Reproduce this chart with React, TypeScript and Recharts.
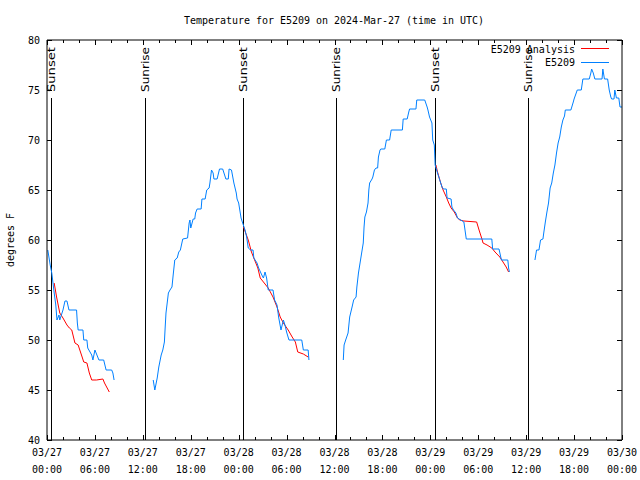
import React from 'react';
import { LineChart, Line, XAxis, YAxis, ReferenceLine } from 'recharts';

const FONT = '"DejaVu Sans Mono", monospace';

// x axis in hours since 03/27 00:00 UTC
const xMajorHours = [0, 6, 12, 18, 24, 30, 36, 42, 48, 54, 60, 66, 72];
const xAllHours = [0, 2, 4, 6, 8, 10, 12, 14, 16, 18, 20, 22, 24, 26, 28, 30, 32, 34, 36, 38, 40, 42, 44, 46, 48, 50, 52, 54, 56, 58, 60, 62, 64, 66, 68, 70, 72];
const xTickDates = ['03/27', '03/27', '03/27', '03/27', '03/28', '03/28', '03/28', '03/28', '03/29', '03/29', '03/29', '03/29', '03/30'];
const xTickTimes = ['00:00', '06:00', '12:00', '18:00', '00:00', '06:00', '12:00', '18:00', '00:00', '06:00', '12:00', '18:00', '00:00'];
const yTicks = [40, 45, 50, 55, 60, 65, 70, 75, 80];

const sunsetHours = [0.5, 24.54, 48.58];
const sunriseHours = [12.27, 36.19, 60.23];

// E5209 observations [hour, degF]
const obsSeg1: [number, number][] = [
  [0.1, 59], [0.4, 57.5], [0.6, 56.7], [0.9, 54.7], [1.1, 53.5], [1.25, 52], [1.5, 52.5], [1.6, 52],
  [2, 53], [2.25, 53.9], [2.5, 53.9], [2.75, 53], [3.7, 53], [3.8, 51.7], [3.9, 51], [4.5, 51],
  [4.6, 50], [5, 50], [5.1, 49.2], [5.6, 48.5], [5.75, 48], [6, 49], [6.3, 48.4], [6.5, 48],
  [7.1, 48], [7.4, 47], [8.1, 47], [8.25, 46.7], [8.4, 46],
];
const obsSeg2: [number, number][] = [
  [13.3, 46], [13.5, 45], [13.8, 46.2], [14, 47.3], [14.3, 48.5], [14.5, 49], [14.7, 49.8], [14.8, 51.3],
  [14.9, 52.7], [15.2, 54.7], [15.4, 55], [15.65, 55.3], [15.8, 56.5], [16, 58], [16.3, 58.2], [16.5, 58.8],
  [16.7, 59], [17, 60.1], [17.6, 60.2], [17.8, 61.7], [17.9, 62], [18, 61.2], [18.3, 62.1], [18.5, 62.1],
  [18.6, 62.7], [18.8, 63.1], [19.3, 63.1], [19.4, 64.1], [19.8, 64.1], [20, 65], [20.3, 65.2], [20.4, 65.7],
  [20.6, 67], [20.8, 66.7], [20.9, 66.1], [21.3, 66.1], [21.6, 67.1], [22, 67.1], [22.4, 66.1], [22.7, 66.1],
  [22.8, 67.1], [23.1, 67], [23.4, 65.7], [23.7, 64.7], [23.8, 64.1], [24, 63.7], [24.3, 62.2], [24.5, 61.7],
  [24.8, 61], [25, 60.3], [25.2, 59.2], [25.5, 59], [25.8, 59], [25.9, 58.2], [26.3, 57.7], [26.5, 57.2],
  [26.9, 56.5], [27.1, 56.2], [27.3, 56.8], [27.5, 56.2], [27.7, 55], [28.3, 55], [28.5, 54], [28.8, 53.5],
  [29, 52.3], [29.3, 51], [29.6, 52], [29.8, 51.5], [30, 50.8], [30.3, 50], [31.9, 50], [32.1, 49],
  [32.7, 49], [32.8, 48],
];
const obsSeg3: [number, number][] = [
  [37.1, 48], [37.2, 49.5], [37.4, 50], [37.7, 50.7], [37.9, 52.3], [38.2, 53.3], [38.4, 54], [38.7, 54.3],
  [38.8, 55.3], [39, 56.7], [39.2, 57.7], [39.4, 58.7], [39.6, 59.7], [39.7, 61.3], [39.8, 62.3], [40, 62.8],
  [40.2, 63.7], [40.3, 65], [40.4, 65.7], [40.7, 66.1], [40.8, 66.3], [41, 67], [41.2, 67.2], [41.4, 67.2],
  [41.5, 68.3], [41.7, 69], [41.8, 69.1], [42.3, 69.1], [42.5, 70], [42.9, 70], [43.1, 71], [44.5, 71],
  [44.6, 72.1], [45.1, 72.1], [45.3, 72.8], [45.4, 73.1], [46.2, 73.1], [46.3, 74], [47.3, 74], [47.6, 73.3],
  [47.7, 73], [47.9, 72.3], [48.2, 71.7], [48.3, 70], [48.5, 69.5], [48.6, 67.5], [48.9, 66.7], [49.1, 66.2],
  [49.3, 65.7], [49.5, 65.2], [49.7, 65.1], [50, 65.1], [50.1, 64.2], [50.6, 64.1], [50.7, 63.3], [50.9, 63],
  [51.2, 62.7], [51.4, 62.2], [52, 61.9], [52.2, 61.8], [52.5, 60.1], [55.7, 60.1], [55.8, 59.1], [56.6, 59.1],
  [56.9, 58], [57.7, 58], [57.8, 57.2], [57.9, 56.8],
];
const obsSeg4: [number, number][] = [
  [61.1, 58], [61.3, 59], [61.6, 59], [61.8, 60], [62.1, 60.1], [62.2, 60.7], [62.4, 61.8], [62.6, 62.8],
  [62.8, 63.7], [63, 65.2], [63.2, 65.7], [63.4, 66.7], [63.6, 67.5], [63.8, 68.7], [64, 69.7], [64.2, 70.3],
  [64.4, 71.3], [64.6, 72], [64.8, 72.4], [64.9, 73], [65.6, 73], [65.9, 73.8], [66, 74.1], [66.4, 75],
  [66.9, 75], [67.1, 76.1], [67.9, 76.1], [68.1, 76.7], [68.2, 77.1], [68.4, 76.7], [68.6, 76.1], [69.5, 76.1],
  [69.6, 77.1], [69.8, 76.1], [70.2, 76.1], [70.4, 75], [70.6, 74.3], [70.7, 74.1], [71, 74.1], [71.1, 75],
  [71.3, 74.2], [71.6, 74.2], [71.75, 73.3], [72, 73.3],
];

// E5209 analysis [hour, degF]
const anaSeg1: [number, number][] = [
  [0.9, 55.7], [1.2, 54.3], [1.6, 52.7], [2, 52.2], [2.5, 51.5], [2.8, 51.2], [3.1, 51], [3.5, 49.7],
  [3.9, 49.5], [4.4, 48.3], [4.6, 47.8], [5, 47.7], [5.3, 46.7], [5.6, 46], [6.2, 46], [7, 46.1],
  [7.2, 45.7], [7.8, 44.8],
];
const anaSeg2: [number, number][] = [
  [24.6, 61.3], [25.2, 60], [25.6, 58.8], [26, 58], [26.4, 57.2], [26.7, 56.2], [27.1, 55.8], [27.7, 55.2],
  [28.3, 54.3], [28.8, 53.3], [29.2, 52.3], [29.6, 51.7], [30.2, 51], [30.7, 50.3], [31.1, 49.8], [31.4, 48.8],
  [32.1, 48.6], [32.7, 48.3],
];
const anaSeg3: [number, number][] = [
  [48.7, 67.5], [48.9, 66.8], [49.3, 65.7], [49.6, 65], [50, 64.3], [50.3, 63.7], [50.6, 63.2], [51, 62.8],
  [51.4, 62.2], [51.7, 62], [52.2, 61.9], [53.8, 61.8], [54.1, 61], [54.5, 60], [54.6, 59.7], [55.1, 59.5],
  [55.7, 59.2], [56.1, 58.8], [56.7, 58.3], [57.1, 57.8], [57.5, 57.3], [57.8, 56.8],
];

// join segments, a null point between them breaks the line
const joinSegments = (segs: [number, number][][]) => {
  const out: { h: number; t: number | null }[] = [];
  segs.forEach((seg, i) => {
    if (i > 0) out.push({ h: (segs[i - 1][segs[i - 1].length - 1][0] + seg[0][0]) / 2, t: null });
    seg.forEach(([h, t]) => out.push({ h, t }));
  });
  return out;
};

const obsData = joinSegments([obsSeg1, obsSeg2, obsSeg3, obsSeg4]);
const anaData = joinSegments([anaSeg1, anaSeg2, anaSeg3]);

// snap to pixel centre so 1px lines stay sharp
const px = (v: number) => Math.round(v) + 0.5;

const BottomTick = (props: any) => {
  const { x, y, payload } = props;
  const idx = xMajorHours.indexOf(payload.value);
  const major = idx >= 0;
  return (
    <g>
      <line x1={px(x)} x2={px(x)} y1={y} y2={y - (major ? 5 : 3)} stroke="#000" />
      {major && (
        <text textAnchor="middle" fontFamily={FONT} fontSize={10} fill="#000">
          <tspan x={x} y={y + 16}>{xTickDates[idx]}</tspan>
          <tspan x={x} y={y + 33}>{xTickTimes[idx]}</tspan>
        </text>
      )}
    </g>
  );
};

const TopTick = (props: any) => {
  const { x, y, payload } = props;
  const major = xMajorHours.indexOf(payload.value) >= 0;
  return <line x1={px(x)} x2={px(x)} y1={y} y2={y + (major ? 5 : 3)} stroke="#000" />;
};

const LeftTick = (props: any) => {
  const { x, y, payload } = props;
  return (
    <g>
      <line x1={x} x2={x + 5} y1={px(y)} y2={px(y)} stroke="#000" />
      <text x={x - 7} y={y + 4} textAnchor="end" fontFamily={FONT} fontSize={10} fill="#000">
        {payload.value}
      </text>
    </g>
  );
};

const RightTick = (props: any) => {
  const { x, y } = props;
  return <line x1={x} x2={x - 5} y1={px(y)} y2={px(y)} stroke="#000" />;
};

const sunShape = (label: string) => (props: any) => {
  const { x1, y1, y2 } = props;
  const top = Math.min(y1, y2);
  const bottom = Math.max(y1, y2);
  const lx = px(x1);
  return (
    <g>
      <line x1={lx} x2={lx} y1={top + 58} y2={bottom} stroke="#000" strokeWidth={1} />
      <text
        transform={`rotate(-90 ${x1 + 4} ${top + 52})`}
        x={x1 + 4}
        y={top + 52}
        fontFamily="DejaVu Sans"
        fontSize={11}
        fill="#000"
        textLength={45}
        lengthAdjust="spacingAndGlyphs"
      >
        {label}
      </text>
    </g>
  );
};

export default function App() {
  return (
    <div style={{ position: 'absolute', left: 0, top: 0, width: 640, height: 480, background: '#fff' }}>
      <LineChart width={640} height={480} margin={{ top: 39, right: 17, bottom: 0, left: 0 }}>
        <XAxis
          xAxisId="bottom"
          dataKey="h"
          type="number"
          domain={[0, 72]}
          ticks={xAllHours}
          interval={0}
          allowDataOverflow
          height={40}
          tickSize={0}
          tickMargin={0}
          tickLine={false}
          axisLine={{ stroke: '#000' }}
          tick={<BottomTick />}
        />
        <XAxis
          xAxisId="top"
          orientation="top"
          dataKey="h"
          type="number"
          domain={[0, 72]}
          ticks={xAllHours}
          interval={0}
          allowDataOverflow
          height={1}
          tickSize={0}
          tickMargin={0}
          tickLine={false}
          axisLine={{ stroke: '#000' }}
          tick={<TopTick />}
        />
        <YAxis
          yAxisId="left"
          type="number"
          domain={[40, 80]}
          ticks={yTicks}
          interval={0}
          allowDataOverflow
          width={47}
          tickSize={0}
          tickMargin={0}
          tickLine={false}
          axisLine={{ stroke: '#000' }}
          tick={<LeftTick />}
        />
        <YAxis
          yAxisId="right"
          orientation="right"
          type="number"
          domain={[40, 80]}
          ticks={yTicks}
          interval={0}
          allowDataOverflow
          width={1}
          tickSize={0}
          tickMargin={0}
          tickLine={false}
          axisLine={{ stroke: '#000' }}
          tick={<RightTick />}
        />
        {sunsetHours.map((h) => (
          <ReferenceLine key={`ss${h}`} x={h} xAxisId="bottom" yAxisId="left" shape={sunShape('Sunset')} />
        ))}
        {sunriseHours.map((h) => (
          <ReferenceLine key={`sr${h}`} x={h} xAxisId="bottom" yAxisId="left" shape={sunShape('Sunrise')} />
        ))}
        <Line
          data={anaData}
          xAxisId="bottom"
          yAxisId="left"
          dataKey="t"
          name="E5209 Analysis"
          type="linear"
          stroke="#ff0000"
          strokeWidth={1}
          dot={false}
          activeDot={false}
          isAnimationActive={false}
        />
        <Line
          data={obsData}
          xAxisId="bottom"
          yAxisId="left"
          dataKey="t"
          name="E5209"
          type="linear"
          stroke="#0080ff"
          strokeWidth={1}
          dot={false}
          activeDot={false}
          isAnimationActive={false}
        />
      </LineChart>
      <svg
        width={640}
        height={480}
        style={{ position: 'absolute', left: 0, top: 0, pointerEvents: 'none' }}
      >
        <text x={334} y={24} textAnchor="middle" fontFamily={FONT} fontSize={10} fill="#000" textLength={300}>
          Temperature for E5209 on 2024-Mar-27 (time in UTC)
        </text>
        <text
          transform="rotate(-90 14 240)"
          x={14}
          y={240}
          textAnchor="middle"
          fontFamily={FONT}
          fontSize={10}
          fill="#000"
        >
          degrees F
        </text>
        <text x={575} y={53} textAnchor="end" fontFamily={FONT} fontSize={10} fill="#000">
          E5209 Analysis
        </text>
        <line x1={581} x2={609} y1={48.5} y2={48.5} stroke="#ff0000" />
        <text x={575} y={66} textAnchor="end" fontFamily={FONT} fontSize={10} fill="#000">
          E5209
        </text>
        <line x1={581} x2={609} y1={62.5} y2={62.5} stroke="#0080ff" />
      </svg>
    </div>
  );
}
